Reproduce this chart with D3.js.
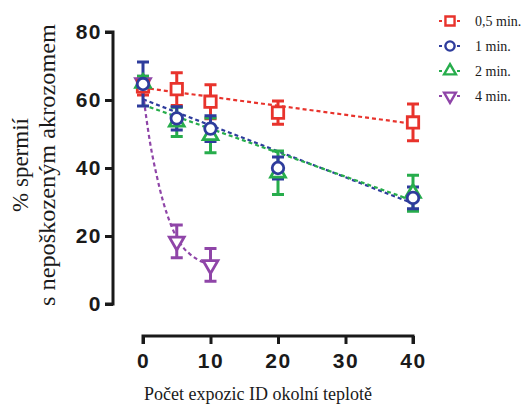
<!DOCTYPE html>
<html>
<head>
<meta charset="utf-8">
<script src="https://cdn.jsdelivr.net/npm/d3@7"></script>
<style>
  body { margin: 0; background: #fff; }
  svg { display: block; }
  .tick text { font-family: "Liberation Sans", Arial, sans-serif; font-weight: bold; font-size: 21px; letter-spacing: 1.5px; fill: #1a1a1a; }
  .label { font-family: "Liberation Serif", "Times New Roman", serif; fill: #1a1a1a; }
</style>
</head>
<body>
<svg width="526" height="405"></svg>
<script>
(function (d3) {
  "use strict";

  // data
  const expositions = [0, 5, 10, 20, 40];
  const xTicks = [0, 10, 20, 30, 40];
  const yTicks = [0, 20, 40, 60, 80];

  const seriesNames = ["0,5 min.", "1 min.", "2 min.", "4 min."];
  const meanHalf = [64, 63.2, 59.5, 56.3, 53.4];
  const sdHalf = [2.5, 4.8, 5, 3.4, 5.4];
  const meanOne = [64.7, 54.6, 51.6, 40, 31.2];
  const sdOne = [6.5, 3.4, 3.8, 3.2, 3.2];
  const meanTwo = [65, 53.6, 49.6, 38.6, 32.6];
  const sdTwo = [2, 4.3, 5.1, 6.4, 5.3];
  const meanFour = [65, 18.4, 11.5];
  const sdFour = [2, 4.8, 4.8];

  // dashed fit lines, also
  const fitHalf = [[0, 63.6], [40, 53]];
  const fitOne = [[0, 60.2], [40, 29.6]];
  const fitTwo = [[0, 58.6], [40, 30.4]];
  const fitFour = [[0, 62], [1, 48], [2, 38], [3, 30], [4, 24], [5, 19.5],
    [6, 16.5], [7, 14.6], [8, 13.2], [9, 12.2], [10, 11.4]];

  const colors = ["#e8332c", "#2e3c9c", "#27ad4c", "#8f45a8"];

  const series = [
    { name: seriesNames[0], mean: meanHalf, sd: sdHalf, fit: fitHalf, color: colors[0], shape: "square" },
    { name: seriesNames[1], mean: meanOne, sd: sdOne, fit: fitOne, color: colors[1], shape: "circle" },
    { name: seriesNames[2], mean: meanTwo, sd: sdTwo, fit: fitTwo, color: colors[2], shape: "up" },
    { name: seriesNames[3], mean: meanFour, sd: sdFour, fit: fitFour, color: colors[3], shape: "down" }
  ];

  const svg = d3.select("svg");

  const xScale = d3.scaleLinear().domain([0, 40]).range([143, 413]);
  const yScale = d3.scaleLinear().domain([0, 80]).range([304, 32]);

  const symbolFor = (shape) => {
    if (shape === "square") return d3.symbol(d3.symbolSquare, 130)();
    if (shape === "circle") return d3.symbol(d3.symbolCircle, 105)();
    return d3.symbol(d3.symbolTriangle, 95)();
  };

  // axes
  const yAxis = d3.axisLeft(yScale).tickValues(yTicks).tickSize(8).tickPadding(3).tickSizeOuter(0);
  const yAxisG = svg.append("g").attr("transform", "translate(113,0)").call(yAxis);

  const xAxis = d3.axisBottom(xScale).tickValues(xTicks).tickSize(8).tickPadding(9).tickSizeOuter(0);
  const xAxisG = svg.append("g").attr("transform", "translate(0,336)").call(xAxis);

  [yAxisG, xAxisG].forEach((g) => {
    g.select(".domain").attr("stroke", "#1a1a1a").attr("stroke-width", 3);
    g.selectAll(".tick line").attr("stroke", "#1a1a1a").attr("stroke-width", 3);
  });
  xAxisG.select(".domain").attr("d", `M${xScale(0)},8V0H${xScale(40)}V8`);
  yAxisG.select(".domain").attr("d", `M-8,${yScale(80)}H0V${yScale(0)}H-8`);

  // fit lines
  const line = d3.line().x((d) => xScale(d[0])).y((d) => yScale(d[1])).curve(d3.curveMonotoneX);
  const plot = svg.append("g");

  series.forEach((s) => {
    plot.append("path")
      .attr("d", line(s.fit))
      .attr("fill", "none")
      .attr("stroke", s.color)
      .attr("stroke-width", 2.2)
      .attr("stroke-dasharray", "4,3");
  });

  // error bars then markers
  const order = [3, 0, 2, 1];
  order.forEach((i) => {
    const s = series[i];
    const pts = s.mean.map((m, j) => ({ x: expositions[j], m: m, sd: s.sd[j] }));
    const eg = plot.append("g").attr("stroke", s.color).attr("stroke-width", 3);
    eg.selectAll(".bar").data(pts).enter().append("path")
      .attr("fill", "none")
      .attr("d", (d) => {
        const cx = xScale(d.x), top = yScale(d.m + d.sd), bot = yScale(d.m - d.sd);
        return `M${cx - 6},${top}H${cx + 6}M${cx},${top}V${bot}M${cx - 6},${bot}H${cx + 6}`;
      });
  });
  order.forEach((i) => {
    const s = series[i];
    const pts = s.mean.map((m, j) => ({ x: expositions[j], m: m }));
    plot.append("g").selectAll("path").data(pts).enter().append("path")
      .attr("d", symbolFor(s.shape))
      .attr("transform", (d) => `translate(${xScale(d.x)},${yScale(d.m)})${s.shape === "down" ? " rotate(180)" : ""}`)
      .attr("fill", "#fff")
      .attr("stroke", s.color)
      .attr("stroke-width", 2.8);
  });

  // legend
  const legend = svg.append("g").attr("transform", "translate(450,21)");
  series.forEach((s, i) => {
    const row = legend.append("g").attr("transform", `translate(0,${i * 25})`);
    row.append("line").attr("x1", -11).attr("x2", 11)
      .attr("stroke", s.color).attr("stroke-width", 2).attr("stroke-dasharray", "3,3");
    row.append("path")
      .attr("d", symbolFor(s.shape))
      .attr("transform", `scale(0.8)${s.shape === "down" ? " rotate(180)" : ""}`)
      .attr("fill", "#fff").attr("stroke", s.color).attr("stroke-width", 3);
    row.append("text").attr("class", "label")
      .attr("x", 25).attr("y", 5)
      .style("font-size", "14px")
      .text(s.name);
  });

  // axis titles
  svg.append("text").attr("class", "label")
    .attr("x", 258).attr("y", 400)
    .attr("text-anchor", "middle")
    .style("font-size", "18px")
    .text("Počet expozic ID okolní teplotě");

  const yTitle = svg.append("text").attr("class", "label")
    .attr("transform", "translate(0,165) rotate(-90)")
    .attr("text-anchor", "middle")
    .style("font-size", "23px");
  yTitle.append("tspan").attr("x", 0).attr("y", 28).text("% spermií");
  yTitle.append("tspan").attr("x", 0).attr("y", 55)
    .attr("textLength", 282).attr("lengthAdjust", "spacingAndGlyphs")
    .text("s nepoškozeným akrozomem");
})(d3);
</script>
</body>
</html>
